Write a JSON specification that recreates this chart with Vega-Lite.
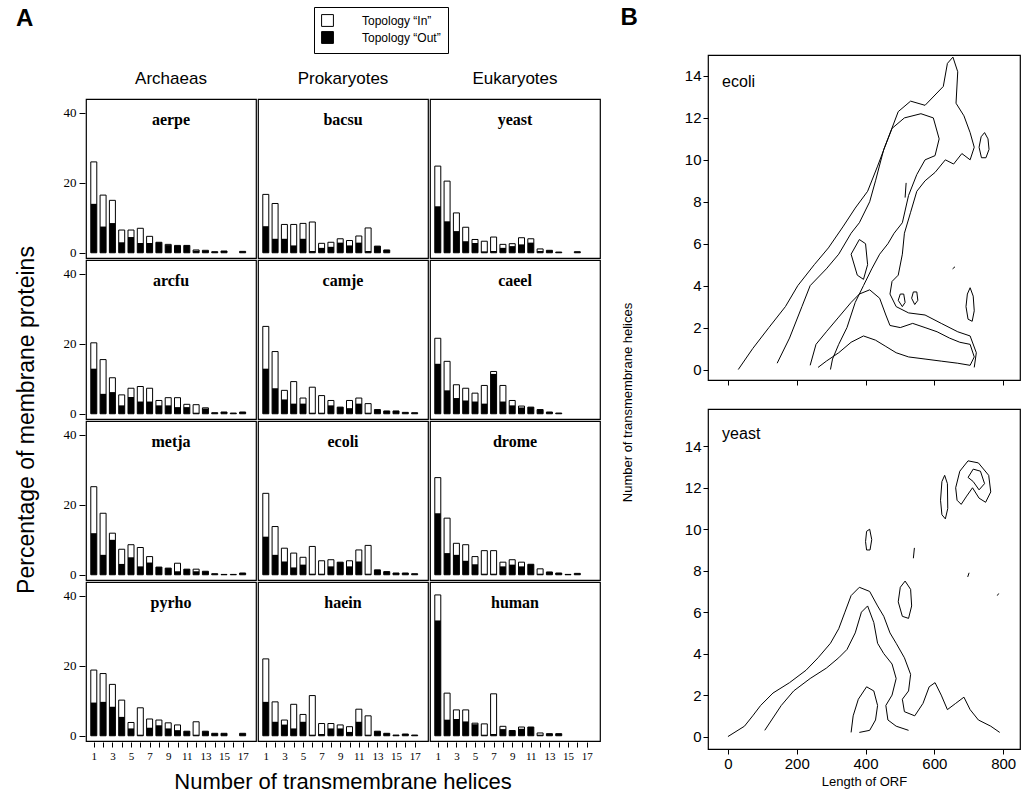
{
"$schema": "https://vega.github.io/schema/vega-lite/v6.json",
"padding": {"left": 15, "top": 6, "right": 0, "bottom": 0},
"background": "white",
"config": {"view": {"stroke": "black", "strokeWidth": 1.2}, "axis": {"grid": false, "domainColor": "black", "tickColor": "black", "labelColor": "black", "titleColor": "black", "labelOverlap": false}},
"datasets": {
"bars": [
{"org":"aerpe","kingdom":"Archaeas","row":1,"n":1,"total":26,"out":14},{"org":"aerpe","kingdom":"Archaeas","row":1,"n":2,"total":16.5,"out":7.5},{"org":"aerpe","kingdom":"Archaeas","row":1,"n":3,"total":15,"out":8.5},{"org":"aerpe","kingdom":"Archaeas","row":1,"n":4,"total":6.5,"out":3},{"org":"aerpe","kingdom":"Archaeas","row":1,"n":5,"total":6.5,"out":4.5},{"org":"aerpe","kingdom":"Archaeas","row":1,"n":6,"total":7,"out":2.8},{"org":"aerpe","kingdom":"Archaeas","row":1,"n":7,"total":4.7,"out":2.8},{"org":"aerpe","kingdom":"Archaeas","row":1,"n":8,"total":3,"out":3},{"org":"aerpe","kingdom":"Archaeas","row":1,"n":9,"total":2.4,"out":2.2},{"org":"aerpe","kingdom":"Archaeas","row":1,"n":10,"total":2.1,"out":2},{"org":"aerpe","kingdom":"Archaeas","row":1,"n":11,"total":2.1,"out":2.1},{"org":"aerpe","kingdom":"Archaeas","row":1,"n":12,"total":0.8,"out":0.6},{"org":"aerpe","kingdom":"Archaeas","row":1,"n":13,"total":0.7,"out":0.6},{"org":"aerpe","kingdom":"Archaeas","row":1,"n":14,"total":0.3,"out":0.3},{"org":"aerpe","kingdom":"Archaeas","row":1,"n":15,"total":0.5,"out":0.5},{"org":"aerpe","kingdom":"Archaeas","row":1,"n":17,"total":0.4,"out":0.4},
{"org":"bacsu","kingdom":"Prokaryotes","row":1,"n":1,"total":16.7,"out":7.6},{"org":"bacsu","kingdom":"Prokaryotes","row":1,"n":2,"total":14.1,"out":4},{"org":"bacsu","kingdom":"Prokaryotes","row":1,"n":3,"total":8.1,"out":4},{"org":"bacsu","kingdom":"Prokaryotes","row":1,"n":4,"total":8.1,"out":2.1},{"org":"bacsu","kingdom":"Prokaryotes","row":1,"n":5,"total":8.4,"out":4},{"org":"bacsu","kingdom":"Prokaryotes","row":1,"n":6,"total":8.8,"out":0.5},{"org":"bacsu","kingdom":"Prokaryotes","row":1,"n":7,"total":2.7,"out":1.4},{"org":"bacsu","kingdom":"Prokaryotes","row":1,"n":8,"total":3,"out":1.7},{"org":"bacsu","kingdom":"Prokaryotes","row":1,"n":9,"total":4,"out":2.9},{"org":"bacsu","kingdom":"Prokaryotes","row":1,"n":10,"total":3.5,"out":2.1},{"org":"bacsu","kingdom":"Prokaryotes","row":1,"n":11,"total":4.8,"out":2.9},{"org":"bacsu","kingdom":"Prokaryotes","row":1,"n":12,"total":7.1,"out":0.5},{"org":"bacsu","kingdom":"Prokaryotes","row":1,"n":13,"total":1.9,"out":1.9},{"org":"bacsu","kingdom":"Prokaryotes","row":1,"n":14,"total":0.8,"out":0.8},
{"org":"yeast","kingdom":"Eukaryotes","row":1,"n":1,"total":24.8,"out":13.3},{"org":"yeast","kingdom":"Eukaryotes","row":1,"n":2,"total":20.5,"out":9},{"org":"yeast","kingdom":"Eukaryotes","row":1,"n":3,"total":11.4,"out":6.2},{"org":"yeast","kingdom":"Eukaryotes","row":1,"n":4,"total":7.3,"out":3.3},{"org":"yeast","kingdom":"Eukaryotes","row":1,"n":5,"total":3.8,"out":2.8},{"org":"yeast","kingdom":"Eukaryotes","row":1,"n":6,"total":3.3,"out":0.4},{"org":"yeast","kingdom":"Eukaryotes","row":1,"n":7,"total":4.5,"out":0.5},{"org":"yeast","kingdom":"Eukaryotes","row":1,"n":8,"total":2.4,"out":1.4},{"org":"yeast","kingdom":"Eukaryotes","row":1,"n":9,"total":2.6,"out":1.9},{"org":"yeast","kingdom":"Eukaryotes","row":1,"n":10,"total":4.3,"out":2.4},{"org":"yeast","kingdom":"Eukaryotes","row":1,"n":11,"total":4,"out":2.9},{"org":"yeast","kingdom":"Eukaryotes","row":1,"n":12,"total":1.1,"out":0.5},{"org":"yeast","kingdom":"Eukaryotes","row":1,"n":13,"total":0.7,"out":0.7},{"org":"yeast","kingdom":"Eukaryotes","row":1,"n":14,"total":0.2,"out":0.2},{"org":"yeast","kingdom":"Eukaryotes","row":1,"n":16,"total":0.3,"out":0.3},
{"org":"arcfu","kingdom":"Archaeas","row":2,"n":1,"total":20.3,"out":12.9},{"org":"arcfu","kingdom":"Archaeas","row":2,"n":2,"total":15.5,"out":5.7},{"org":"arcfu","kingdom":"Archaeas","row":2,"n":3,"total":10.3,"out":6.2},{"org":"arcfu","kingdom":"Archaeas","row":2,"n":4,"total":5.4,"out":2.4},{"org":"arcfu","kingdom":"Archaeas","row":2,"n":5,"total":7.3,"out":4.8},{"org":"arcfu","kingdom":"Archaeas","row":2,"n":6,"total":7.8,"out":3.5},{"org":"arcfu","kingdom":"Archaeas","row":2,"n":7,"total":7.3,"out":3.5},{"org":"arcfu","kingdom":"Archaeas","row":2,"n":8,"total":3.8,"out":2.4},{"org":"arcfu","kingdom":"Archaeas","row":2,"n":9,"total":4.6,"out":2.4},{"org":"arcfu","kingdom":"Archaeas","row":2,"n":10,"total":4.6,"out":1.9},{"org":"arcfu","kingdom":"Archaeas","row":2,"n":11,"total":2.7,"out":1.9},{"org":"arcfu","kingdom":"Archaeas","row":2,"n":12,"total":2.6,"out":0.3},{"org":"arcfu","kingdom":"Archaeas","row":2,"n":13,"total":1.7,"out":1.5},{"org":"arcfu","kingdom":"Archaeas","row":2,"n":14,"total":0.3,"out":0.3},{"org":"arcfu","kingdom":"Archaeas","row":2,"n":15,"total":0.5,"out":0.5},{"org":"arcfu","kingdom":"Archaeas","row":2,"n":16,"total":0.2,"out":0.2},{"org":"arcfu","kingdom":"Archaeas","row":2,"n":17,"total":0.5,"out":0.5},
{"org":"camje","kingdom":"Prokaryotes","row":2,"n":1,"total":25,"out":12.9},{"org":"camje","kingdom":"Prokaryotes","row":2,"n":2,"total":17.8,"out":7.3},{"org":"camje","kingdom":"Prokaryotes","row":2,"n":3,"total":6.7,"out":4.1},{"org":"camje","kingdom":"Prokaryotes","row":2,"n":4,"total":9.2,"out":2.9},{"org":"camje","kingdom":"Prokaryotes","row":2,"n":5,"total":4.5,"out":2.9},{"org":"camje","kingdom":"Prokaryotes","row":2,"n":6,"total":7.6,"out":0.3},{"org":"camje","kingdom":"Prokaryotes","row":2,"n":7,"total":5.2,"out":0.3},{"org":"camje","kingdom":"Prokaryotes","row":2,"n":8,"total":3.8,"out":2.4},{"org":"camje","kingdom":"Prokaryotes","row":2,"n":9,"total":1.9,"out":1.9},{"org":"camje","kingdom":"Prokaryotes","row":2,"n":10,"total":3.8,"out":1.6},{"org":"camje","kingdom":"Prokaryotes","row":2,"n":11,"total":4.5,"out":2.9},{"org":"camje","kingdom":"Prokaryotes","row":2,"n":12,"total":2.9,"out":0.3},{"org":"camje","kingdom":"Prokaryotes","row":2,"n":13,"total":1.2,"out":1.2},{"org":"camje","kingdom":"Prokaryotes","row":2,"n":14,"total":0.8,"out":0.8},{"org":"camje","kingdom":"Prokaryotes","row":2,"n":15,"total":0.8,"out":0.8},{"org":"camje","kingdom":"Prokaryotes","row":2,"n":16,"total":0.4,"out":0.4},{"org":"camje","kingdom":"Prokaryotes","row":2,"n":17,"total":0.3,"out":0.3},
{"org":"caeel","kingdom":"Eukaryotes","row":2,"n":1,"total":21.6,"out":14.3},{"org":"caeel","kingdom":"Eukaryotes","row":2,"n":2,"total":15,"out":6.7},{"org":"caeel","kingdom":"Eukaryotes","row":2,"n":3,"total":8.3,"out":4.5},{"org":"caeel","kingdom":"Eukaryotes","row":2,"n":4,"total":7.3,"out":3.8},{"org":"caeel","kingdom":"Eukaryotes","row":2,"n":5,"total":5.9,"out":3.5},{"org":"caeel","kingdom":"Eukaryotes","row":2,"n":6,"total":8.1,"out":2.9},{"org":"caeel","kingdom":"Eukaryotes","row":2,"n":7,"total":12.1,"out":11.4},{"org":"caeel","kingdom":"Eukaryotes","row":2,"n":8,"total":8.1,"out":3.5},{"org":"caeel","kingdom":"Eukaryotes","row":2,"n":9,"total":3.8,"out":2.4},{"org":"caeel","kingdom":"Eukaryotes","row":2,"n":10,"total":2.2,"out":1.8},{"org":"caeel","kingdom":"Eukaryotes","row":2,"n":11,"total":1.9,"out":1.9},{"org":"caeel","kingdom":"Eukaryotes","row":2,"n":12,"total":1.2,"out":1.2},{"org":"caeel","kingdom":"Eukaryotes","row":2,"n":13,"total":0.5,"out":0.5},{"org":"caeel","kingdom":"Eukaryotes","row":2,"n":14,"total":0.2,"out":0.2},
{"org":"metja","kingdom":"Archaeas","row":3,"n":1,"total":25.2,"out":11.9},{"org":"metja","kingdom":"Archaeas","row":3,"n":2,"total":17.6,"out":5.7},{"org":"metja","kingdom":"Archaeas","row":3,"n":3,"total":11.9,"out":10},{"org":"metja","kingdom":"Archaeas","row":3,"n":4,"total":7.3,"out":3.1},{"org":"metja","kingdom":"Archaeas","row":3,"n":5,"total":8.6,"out":5},{"org":"metja","kingdom":"Archaeas","row":3,"n":6,"total":7.8,"out":2.4},{"org":"metja","kingdom":"Archaeas","row":3,"n":7,"total":5.2,"out":3.5},{"org":"metja","kingdom":"Archaeas","row":3,"n":8,"total":2.2,"out":2.2},{"org":"metja","kingdom":"Archaeas","row":3,"n":9,"total":1.9,"out":1.9},{"org":"metja","kingdom":"Archaeas","row":3,"n":10,"total":3.3,"out":1},{"org":"metja","kingdom":"Archaeas","row":3,"n":11,"total":1.6,"out":1.6},{"org":"metja","kingdom":"Archaeas","row":3,"n":12,"total":1.6,"out":1},{"org":"metja","kingdom":"Archaeas","row":3,"n":13,"total":1,"out":1},{"org":"metja","kingdom":"Archaeas","row":3,"n":14,"total":0.3,"out":0.3},{"org":"metja","kingdom":"Archaeas","row":3,"n":15,"total":0.1,"out":0.1},{"org":"metja","kingdom":"Archaeas","row":3,"n":16,"total":0.1,"out":0.1},{"org":"metja","kingdom":"Archaeas","row":3,"n":17,"total":0.5,"out":0.5},
{"org":"ecoli","kingdom":"Prokaryotes","row":3,"n":1,"total":23.3,"out":10.9},{"org":"ecoli","kingdom":"Prokaryotes","row":3,"n":2,"total":13.8,"out":5.7},{"org":"ecoli","kingdom":"Prokaryotes","row":3,"n":3,"total":7.6,"out":3.8},{"org":"ecoli","kingdom":"Prokaryotes","row":3,"n":4,"total":6.2,"out":2.1},{"org":"ecoli","kingdom":"Prokaryotes","row":3,"n":5,"total":5,"out":2.9},{"org":"ecoli","kingdom":"Prokaryotes","row":3,"n":6,"total":8.1,"out":0.3},{"org":"ecoli","kingdom":"Prokaryotes","row":3,"n":7,"total":4,"out":0.3},{"org":"ecoli","kingdom":"Prokaryotes","row":3,"n":8,"total":4.3,"out":2.4},{"org":"ecoli","kingdom":"Prokaryotes","row":3,"n":9,"total":3.6,"out":3.6},{"org":"ecoli","kingdom":"Prokaryotes","row":3,"n":10,"total":4,"out":2.4},{"org":"ecoli","kingdom":"Prokaryotes","row":3,"n":11,"total":7.1,"out":3.8},{"org":"ecoli","kingdom":"Prokaryotes","row":3,"n":12,"total":8.4,"out":0.3},{"org":"ecoli","kingdom":"Prokaryotes","row":3,"n":13,"total":1.4,"out":1.4},{"org":"ecoli","kingdom":"Prokaryotes","row":3,"n":14,"total":0.9,"out":0.9},{"org":"ecoli","kingdom":"Prokaryotes","row":3,"n":15,"total":0.5,"out":0.5},{"org":"ecoli","kingdom":"Prokaryotes","row":3,"n":16,"total":0.5,"out":0.5},{"org":"ecoli","kingdom":"Prokaryotes","row":3,"n":17,"total":0.3,"out":0.3},
{"org":"drome","kingdom":"Eukaryotes","row":3,"n":1,"total":27.8,"out":17.6},{"org":"drome","kingdom":"Eukaryotes","row":3,"n":2,"total":16.2,"out":6.2},{"org":"drome","kingdom":"Eukaryotes","row":3,"n":3,"total":9,"out":5.7},{"org":"drome","kingdom":"Eukaryotes","row":3,"n":4,"total":8.6,"out":4},{"org":"drome","kingdom":"Eukaryotes","row":3,"n":5,"total":5.2,"out":3},{"org":"drome","kingdom":"Eukaryotes","row":3,"n":6,"total":6.9,"out":0.3},{"org":"drome","kingdom":"Eukaryotes","row":3,"n":7,"total":6.9,"out":0.3},{"org":"drome","kingdom":"Eukaryotes","row":3,"n":8,"total":3.6,"out":2.4},{"org":"drome","kingdom":"Eukaryotes","row":3,"n":9,"total":4.3,"out":2.9},{"org":"drome","kingdom":"Eukaryotes","row":3,"n":10,"total":3.6,"out":2.4},{"org":"drome","kingdom":"Eukaryotes","row":3,"n":11,"total":3,"out":3},{"org":"drome","kingdom":"Eukaryotes","row":3,"n":12,"total":1.7,"out":0.3},{"org":"drome","kingdom":"Eukaryotes","row":3,"n":13,"total":0.8,"out":0.8},{"org":"drome","kingdom":"Eukaryotes","row":3,"n":14,"total":0.5,"out":0.5},{"org":"drome","kingdom":"Eukaryotes","row":3,"n":15,"total":0.1,"out":0.1},{"org":"drome","kingdom":"Eukaryotes","row":3,"n":16,"total":0.4,"out":0.4},
{"org":"pyrho","kingdom":"Archaeas","row":4,"n":1,"total":18.8,"out":9.5},{"org":"pyrho","kingdom":"Archaeas","row":4,"n":2,"total":17.8,"out":9.7},{"org":"pyrho","kingdom":"Archaeas","row":4,"n":3,"total":14.7,"out":8.3},{"org":"pyrho","kingdom":"Archaeas","row":4,"n":4,"total":10.2,"out":5.4},{"org":"pyrho","kingdom":"Archaeas","row":4,"n":5,"total":3.8,"out":2.1},{"org":"pyrho","kingdom":"Archaeas","row":4,"n":6,"total":8,"out":0.3},{"org":"pyrho","kingdom":"Archaeas","row":4,"n":7,"total":4.8,"out":2.3},{"org":"pyrho","kingdom":"Archaeas","row":4,"n":8,"total":4.5,"out":3},{"org":"pyrho","kingdom":"Archaeas","row":4,"n":9,"total":3.7,"out":2.1},{"org":"pyrho","kingdom":"Archaeas","row":4,"n":10,"total":3.1,"out":1.6},{"org":"pyrho","kingdom":"Archaeas","row":4,"n":11,"total":1.3,"out":1.3},{"org":"pyrho","kingdom":"Archaeas","row":4,"n":12,"total":4,"out":0.3},{"org":"pyrho","kingdom":"Archaeas","row":4,"n":13,"total":1.3,"out":1.3},{"org":"pyrho","kingdom":"Archaeas","row":4,"n":14,"total":0.7,"out":0.7},{"org":"pyrho","kingdom":"Archaeas","row":4,"n":15,"total":0.7,"out":0.7},{"org":"pyrho","kingdom":"Archaeas","row":4,"n":17,"total":0.7,"out":0.7},
{"org":"haein","kingdom":"Prokaryotes","row":4,"n":1,"total":22,"out":9.7},{"org":"haein","kingdom":"Prokaryotes","row":4,"n":2,"total":9.7,"out":4},{"org":"haein","kingdom":"Prokaryotes","row":4,"n":3,"total":4.5,"out":3.2},{"org":"haein","kingdom":"Prokaryotes","row":4,"n":4,"total":9,"out":2.1},{"org":"haein","kingdom":"Prokaryotes","row":4,"n":5,"total":6.1,"out":4},{"org":"haein","kingdom":"Prokaryotes","row":4,"n":6,"total":11.5,"out":0.3},{"org":"haein","kingdom":"Prokaryotes","row":4,"n":7,"total":3.5,"out":0.5},{"org":"haein","kingdom":"Prokaryotes","row":4,"n":8,"total":3.5,"out":2.1},{"org":"haein","kingdom":"Prokaryotes","row":4,"n":9,"total":3.1,"out":2.1},{"org":"haein","kingdom":"Prokaryotes","row":4,"n":10,"total":2.6,"out":1.1},{"org":"haein","kingdom":"Prokaryotes","row":4,"n":11,"total":7.6,"out":4},{"org":"haein","kingdom":"Prokaryotes","row":4,"n":12,"total":5.7,"out":0.3},{"org":"haein","kingdom":"Prokaryotes","row":4,"n":13,"total":1.3,"out":1.3},{"org":"haein","kingdom":"Prokaryotes","row":4,"n":14,"total":0.7,"out":0.7},{"org":"haein","kingdom":"Prokaryotes","row":4,"n":15,"total":0.2,"out":0.2},{"org":"haein","kingdom":"Prokaryotes","row":4,"n":16,"total":0.5,"out":0.5},{"org":"haein","kingdom":"Prokaryotes","row":4,"n":17,"total":0.2,"out":0.2},
{"org":"human","kingdom":"Eukaryotes","row":4,"n":1,"total":40.3,"out":33},{"org":"human","kingdom":"Eukaryotes","row":4,"n":2,"total":12.2,"out":4.6},{"org":"human","kingdom":"Eukaryotes","row":4,"n":3,"total":7.4,"out":4.8},{"org":"human","kingdom":"Eukaryotes","row":4,"n":4,"total":7.4,"out":4.1},{"org":"human","kingdom":"Eukaryotes","row":4,"n":5,"total":3.6,"out":3.3},{"org":"human","kingdom":"Eukaryotes","row":4,"n":6,"total":3.4,"out":0.3},{"org":"human","kingdom":"Eukaryotes","row":4,"n":7,"total":12,"out":0.5},{"org":"human","kingdom":"Eukaryotes","row":4,"n":8,"total":2.7,"out":1.9},{"org":"human","kingdom":"Eukaryotes","row":4,"n":9,"total":1.5,"out":1.5},{"org":"human","kingdom":"Eukaryotes","row":4,"n":10,"total":2.5,"out":2},{"org":"human","kingdom":"Eukaryotes","row":4,"n":11,"total":2.5,"out":2.5},{"org":"human","kingdom":"Eukaryotes","row":4,"n":12,"total":0.8,"out":0.3},{"org":"human","kingdom":"Eukaryotes","row":4,"n":13,"total":0.6,"out":0.6},{"org":"human","kingdom":"Eukaryotes","row":4,"n":14,"total":0.6,"out":0.6}
],
"ecoli": [
{"c":"e1","i":1,"x":30,"y":0},{"c":"e1","i":2,"x":72,"y":1},{"c":"e1","i":3,"x":119,"y":2},{"c":"e1","i":4,"x":167,"y":3},{"c":"e1","i":5,"x":203,"y":4},{"c":"e1","i":6,"x":251,"y":5},{"c":"e1","i":7,"x":292,"y":5.8},{"c":"e1","i":8,"x":334,"y":6.8},{"c":"e1","i":9,"x":370,"y":7.7},{"c":"e1","i":10,"x":406,"y":8.5},{"c":"e1","i":11,"x":435,"y":9.7},{"c":"e1","i":12,"x":465,"y":11},{"c":"e1","i":13,"x":495,"y":12.3},{"c":"e1","i":14,"x":531,"y":12.8},{"c":"e1","i":15,"x":573,"y":12.6},{"c":"e1","i":16,"x":626,"y":13.5},{"c":"e1","i":17,"x":638,"y":14.6},{"c":"e1","i":18,"x":654,"y":14.9},{"c":"e1","i":19,"x":668,"y":14.2},{"c":"e1","i":20,"x":663,"y":12.7},{"c":"e1","i":21,"x":686,"y":12.1},{"c":"e1","i":22,"x":704,"y":11.3},{"c":"e1","i":23,"x":716,"y":10.6},{"c":"e1","i":24,"x":704,"y":10},{"c":"e1","i":25,"x":680,"y":10.3},{"c":"e1","i":26,"x":656,"y":9.8},{"c":"e1","i":27,"x":632,"y":10},{"c":"e1","i":28,"x":602,"y":9.4},{"c":"e1","i":29,"x":573,"y":9},{"c":"e1","i":30,"x":549,"y":8.5},{"c":"e1","i":31,"x":531,"y":7.5},{"c":"e1","i":32,"x":513,"y":6.5},{"c":"e1","i":33,"x":507,"y":5.5},{"c":"e1","i":34,"x":495,"y":4.5},{"c":"e1","i":35,"x":477,"y":4.2},{"c":"e1","i":36,"x":471,"y":3.6},{"c":"e1","i":37,"x":489,"y":3},{"c":"e1","i":38,"x":525,"y":2.7},{"c":"e1","i":39,"x":573,"y":2.6},{"c":"e1","i":40,"x":620,"y":2.2},{"c":"e1","i":41,"x":668,"y":1.8},{"c":"e1","i":42,"x":704,"y":1.6},{"c":"e1","i":43,"x":722,"y":0.8},{"c":"e1","i":44,"x":716,"y":0.1},
{"c":"e2","i":1,"x":143,"y":0.3},{"c":"e2","i":2,"x":179,"y":1.5},{"c":"e2","i":3,"x":215,"y":3},{"c":"e2","i":4,"x":239,"y":4},{"c":"e2","i":5,"x":286,"y":4.8},{"c":"e2","i":6,"x":322,"y":5.5},{"c":"e2","i":7,"x":358,"y":6.5},{"c":"e2","i":8,"x":382,"y":7},{"c":"e2","i":9,"x":412,"y":8},{"c":"e2","i":10,"x":429,"y":9},{"c":"e2","i":11,"x":453,"y":10.5},{"c":"e2","i":12,"x":477,"y":11.5},{"c":"e2","i":13,"x":513,"y":12},{"c":"e2","i":14,"x":561,"y":12.2},{"c":"e2","i":15,"x":597,"y":12},{"c":"e2","i":16,"x":614,"y":11},{"c":"e2","i":17,"x":602,"y":10.2},{"c":"e2","i":18,"x":573,"y":10},{"c":"e2","i":19,"x":549,"y":9.3},{"c":"e2","i":20,"x":525,"y":8.3},{"c":"e2","i":21,"x":507,"y":7},{"c":"e2","i":22,"x":483,"y":6.5},{"c":"e2","i":23,"x":465,"y":6},{"c":"e2","i":24,"x":441,"y":5.5},{"c":"e2","i":25,"x":418,"y":4.8},{"c":"e2","i":26,"x":394,"y":4},{"c":"e2","i":27,"x":370,"y":3.2},{"c":"e2","i":28,"x":346,"y":2},{"c":"e2","i":29,"x":322,"y":1.2},{"c":"e2","i":30,"x":304,"y":0.5},{"c":"e2","i":31,"x":298,"y":0},
{"c":"e3","i":1,"x":239,"y":0.2},{"c":"e3","i":2,"x":256,"y":1.2},{"c":"e3","i":3,"x":286,"y":1.8},{"c":"e3","i":4,"x":322,"y":2.5},{"c":"e3","i":5,"x":358,"y":3.2},{"c":"e3","i":6,"x":382,"y":3.6},{"c":"e3","i":7,"x":412,"y":3.8},{"c":"e3","i":8,"x":441,"y":3.4},{"c":"e3","i":9,"x":459,"y":2.6},{"c":"e3","i":10,"x":471,"y":2.1},{"c":"e3","i":11,"x":501,"y":2},{"c":"e3","i":12,"x":537,"y":2.2},{"c":"e3","i":13,"x":573,"y":2},{"c":"e3","i":14,"x":608,"y":1.8},{"c":"e3","i":15,"x":644,"y":1.5},{"c":"e3","i":16,"x":674,"y":1.3},{"c":"e3","i":17,"x":704,"y":1.2},{"c":"e3","i":18,"x":716,"y":0.6},{"c":"e3","i":19,"x":704,"y":0.2},{"c":"e3","i":20,"x":668,"y":0.3},{"c":"e3","i":21,"x":620,"y":0.4},{"c":"e3","i":22,"x":573,"y":0.5},{"c":"e3","i":23,"x":525,"y":0.6},{"c":"e3","i":24,"x":489,"y":0.8},{"c":"e3","i":25,"x":459,"y":1.1},{"c":"e3","i":26,"x":429,"y":1.4},{"c":"e3","i":27,"x":394,"y":1.6},{"c":"e3","i":28,"x":358,"y":1.3},{"c":"e3","i":29,"x":322,"y":0.8},{"c":"e3","i":30,"x":286,"y":0.4},{"c":"e3","i":31,"x":262,"y":0.1},
{"c":"e4","i":1,"x":358,"y":5.5},{"c":"e4","i":2,"x":382,"y":6.2},{"c":"e4","i":3,"x":400,"y":6},{"c":"e4","i":4,"x":406,"y":5},{"c":"e4","i":5,"x":394,"y":4.3},{"c":"e4","i":6,"x":376,"y":4.5},{"c":"e4","i":7,"x":358,"y":5.5},
{"c":"e5","i":1,"x":730,"y":10.6},{"c":"e5","i":2,"x":736,"y":11.1},{"c":"e5","i":3,"x":746,"y":11.3},{"c":"e5","i":4,"x":756,"y":11},{"c":"e5","i":5,"x":759,"y":10.5},{"c":"e5","i":6,"x":750,"y":10.1},{"c":"e5","i":7,"x":737,"y":10.1},{"c":"e5","i":8,"x":730,"y":10.6},
{"c":"e6","i":1,"x":692,"y":3},{"c":"e6","i":2,"x":696,"y":3.6},{"c":"e6","i":3,"x":704,"y":3.9},{"c":"e6","i":4,"x":713,"y":3.5},{"c":"e6","i":5,"x":716,"y":2.8},{"c":"e6","i":6,"x":710,"y":2.3},{"c":"e6","i":7,"x":698,"y":2.4},{"c":"e6","i":8,"x":692,"y":3},
{"c":"e7","i":1,"x":495,"y":3.3},{"c":"e7","i":2,"x":501,"y":3.6},{"c":"e7","i":3,"x":511,"y":3.6},{"c":"e7","i":4,"x":515,"y":3.2},{"c":"e7","i":5,"x":507,"y":3},{"c":"e7","i":6,"x":495,"y":3.3},
{"c":"e8","i":1,"x":534,"y":3.4},{"c":"e8","i":2,"x":539,"y":3.7},{"c":"e8","i":3,"x":549,"y":3.7},{"c":"e8","i":4,"x":552,"y":3.3},{"c":"e8","i":5,"x":543,"y":3.1},{"c":"e8","i":6,"x":534,"y":3.4},
{"c":"e9","i":1,"x":515,"y":8.2},{"c":"e9","i":2,"x":518,"y":8.9},
{"c":"e10","i":1,"x":653,"y":4.8},{"c":"e10","i":2,"x":660,"y":4.9}
],
"yeast": [
{"c":"y1","i":1,"x":0,"y":0},{"c":"y1","i":2,"x":48,"y":0.5},{"c":"y1","i":3,"x":72,"y":1},{"c":"y1","i":4,"x":95,"y":1.5},{"c":"y1","i":5,"x":131,"y":2.1},{"c":"y1","i":6,"x":179,"y":2.6},{"c":"y1","i":7,"x":227,"y":3.2},{"c":"y1","i":8,"x":262,"y":3.8},{"c":"y1","i":9,"x":298,"y":4.5},{"c":"y1","i":10,"x":322,"y":5.2},{"c":"y1","i":11,"x":340,"y":6},{"c":"y1","i":12,"x":358,"y":6.8},{"c":"y1","i":13,"x":382,"y":7.2},{"c":"y1","i":14,"x":412,"y":7},{"c":"y1","i":15,"x":435,"y":6.3},{"c":"y1","i":16,"x":453,"y":5.8},{"c":"y1","i":17,"x":471,"y":5},{"c":"y1","i":18,"x":489,"y":4.5},{"c":"y1","i":19,"x":513,"y":3.8},{"c":"y1","i":20,"x":531,"y":3},{"c":"y1","i":21,"x":525,"y":2.2},{"c":"y1","i":22,"x":507,"y":1.8},{"c":"y1","i":23,"x":513,"y":1.2},{"c":"y1","i":24,"x":543,"y":1},{"c":"y1","i":25,"x":567,"y":1.6},{"c":"y1","i":26,"x":585,"y":2.4},{"c":"y1","i":27,"x":602,"y":2.6},{"c":"y1","i":28,"x":620,"y":2},{"c":"y1","i":29,"x":638,"y":1.3},{"c":"y1","i":30,"x":662,"y":1.6},{"c":"y1","i":31,"x":686,"y":1.9},{"c":"y1","i":32,"x":704,"y":1.3},{"c":"y1","i":33,"x":728,"y":0.8},{"c":"y1","i":34,"x":764,"y":0.5},{"c":"y1","i":35,"x":790,"y":0.2},
{"c":"y2","i":1,"x":107,"y":0.3},{"c":"y2","i":2,"x":155,"y":1.5},{"c":"y2","i":3,"x":191,"y":2.2},{"c":"y2","i":4,"x":239,"y":2.8},{"c":"y2","i":5,"x":286,"y":3.3},{"c":"y2","i":6,"x":322,"y":3.8},{"c":"y2","i":7,"x":346,"y":4.2},{"c":"y2","i":8,"x":370,"y":5},{"c":"y2","i":9,"x":388,"y":6},{"c":"y2","i":10,"x":406,"y":6.3},{"c":"y2","i":11,"x":424,"y":5.5},{"c":"y2","i":12,"x":435,"y":4.5},{"c":"y2","i":13,"x":453,"y":4},{"c":"y2","i":14,"x":477,"y":3.5},{"c":"y2","i":15,"x":489,"y":2.8},{"c":"y2","i":16,"x":477,"y":2},{"c":"y2","i":17,"x":459,"y":1.5},{"c":"y2","i":18,"x":465,"y":0.8},{"c":"y2","i":19,"x":489,"y":0.5},{"c":"y2","i":20,"x":525,"y":0.3},
{"c":"y3","i":1,"x":358,"y":0.2},{"c":"y3","i":2,"x":364,"y":1},{"c":"y3","i":3,"x":379,"y":1.8},{"c":"y3","i":4,"x":403,"y":2.4},{"c":"y3","i":5,"x":424,"y":2.2},{"c":"y3","i":6,"x":435,"y":1.5},{"c":"y3","i":7,"x":429,"y":0.8},{"c":"y3","i":8,"x":412,"y":0.3},{"c":"y3","i":9,"x":382,"y":0.2},
{"c":"y4","i":1,"x":495,"y":6.5},{"c":"y4","i":2,"x":501,"y":7.2},{"c":"y4","i":3,"x":515,"y":7.5},{"c":"y4","i":4,"x":531,"y":7.1},{"c":"y4","i":5,"x":534,"y":6.3},{"c":"y4","i":6,"x":525,"y":5.7},{"c":"y4","i":7,"x":507,"y":5.8},{"c":"y4","i":8,"x":495,"y":6.5},
{"c":"y5","i":1,"x":400,"y":9.4},{"c":"y5","i":2,"x":403,"y":9.9},{"c":"y5","i":3,"x":412,"y":10},{"c":"y5","i":4,"x":418,"y":9.5},{"c":"y5","i":5,"x":413,"y":9},{"c":"y5","i":6,"x":403,"y":9},{"c":"y5","i":7,"x":400,"y":9.4},
{"c":"y6","i":1,"x":618,"y":11.4},{"c":"y6","i":2,"x":622,"y":12.3},{"c":"y6","i":3,"x":630,"y":12.6},{"c":"y6","i":4,"x":638,"y":12.2},{"c":"y6","i":5,"x":639,"y":11},{"c":"y6","i":6,"x":632,"y":10.5},{"c":"y6","i":7,"x":622,"y":10.7},{"c":"y6","i":8,"x":618,"y":11.4},
{"c":"y7","i":1,"x":662,"y":12},{"c":"y7","i":2,"x":674,"y":12.8},{"c":"y7","i":3,"x":698,"y":13.3},{"c":"y7","i":4,"x":728,"y":13.2},{"c":"y7","i":5,"x":758,"y":12.6},{"c":"y7","i":6,"x":764,"y":11.8},{"c":"y7","i":7,"x":749,"y":11.3},{"c":"y7","i":8,"x":730,"y":11.5},{"c":"y7","i":9,"x":711,"y":12},{"c":"y7","i":10,"x":694,"y":11.6},{"c":"y7","i":11,"x":678,"y":11.2},{"c":"y7","i":12,"x":666,"y":11.4},{"c":"y7","i":13,"x":662,"y":12},
{"c":"y8","i":1,"x":698,"y":12.5},{"c":"y8","i":2,"x":713,"y":12.9},{"c":"y8","i":3,"x":734,"y":12.8},{"c":"y8","i":4,"x":746,"y":12.2},{"c":"y8","i":5,"x":730,"y":11.9},{"c":"y8","i":6,"x":713,"y":12.3},{"c":"y8","i":7,"x":698,"y":12.5},
{"c":"y9","i":1,"x":697,"y":7.7},{"c":"y9","i":2,"x":701,"y":7.9},
{"c":"y10","i":1,"x":783,"y":6.8},{"c":"y10","i":2,"x":787,"y":6.9},
{"c":"y11","i":1,"x":539,"y":8.6},{"c":"y11","i":2,"x":542,"y":9.1}
]
},
"hconcat": [
{
"title": {"text": "A", "anchor": "start", "frame": "bounds", "fontSize": 24, "font": "Liberation Sans", "fontWeight": "bold", "offset": 24},
"spacing": 14,
"vconcat": [
{"width": 510, "height": 1, "data": {"values": [{}]}, "mark": {"type": "rule", "opacity": 0}, "encoding": {}, "view": {"stroke": null}},
{
"data": {"name": "bars"},
"facet": {
"row": {"field": "row", "type": "ordinal", "title": "Percentage of membrane proteins", "header": {"labels": false, "titleFont": "Liberation Sans", "titleFontSize": 23, "titleFontWeight": "normal", "titleColor": "black", "titlePadding": 14}},
"column": {"field": "kingdom", "type": "nominal", "title": "Number of transmembrane helices", "sort": ["Archaeas", "Prokaryotes", "Eukaryotes"], "header": {"labelOrient": "top", "titleOrient": "bottom", "labelFont": "Liberation Sans", "labelFontSize": 17, "labelPadding": 10, "labelColor": "black", "titleFont": "Liberation Sans", "titleFontSize": 22, "titleFontWeight": "normal", "titleColor": "black", "titlePadding": 1}}
},
"spacing": 0,
"spec": {
"width": 170, "height": 159,
"resolve": {"axis": {"x": "independent"}},
"layer": [
{"mark": {"type": "bar", "width": 6, "stroke": "black", "strokeWidth": 1},
"encoding": {
"x": {"field": "n", "type": "quantitative", "scale": {"domain": [0.7, 17.9], "nice": false, "zero": false},
"axis": {"orient": "bottom", "title": null, "values": [1,3,5,7,9,11,13,15,17], "labelOverlap": false, "labelFont": "Liberation Serif", "labelFontSize": 11, "labelPadding": 3, "tickSize": 5, "domain": false}},
"y": {"field": "total", "type": "quantitative", "scale": {"domain": [-1.5, 44], "nice": false},
"axis": {"title": null, "values": [0,10,20,30,40], "labelFont": "Liberation Serif", "labelFontSize": 13, "tickSize": 6, "labelPadding": 3, "domain": false}},
"fill": {"datum": "Topology “In”", "type": "nominal", "scale": {"domain": ["Topology “In”", "Topology “Out”"], "range": ["white", "black"]},
"legend": {"title": null, "orient": "none", "legendX": 228, "legendY": -48, "direction": "vertical", "strokeColor": "black", "padding": 7, "symbolType": "square", "symbolSize": 140, "symbolStrokeColor": "black", "symbolStrokeWidth": 1, "labelFont": "Liberation Sans", "labelFontSize": 12, "labelColor": "black", "labelOffset": 28, "rowPadding": 0}}
}},
{"mark": {"type": "bar", "width": 6},
"encoding": {
"x": {"field": "n", "type": "quantitative", "axis": {"orient": "bottom", "title": null, "values": [2,4,6,8,10,12,14,16], "labels": false, "tickSize": 5, "domain": false}},
"y": {"field": "out", "type": "quantitative", "axis": {"title": null}},
"fill": {"datum": "Topology “Out”", "type": "nominal"}
}},
{"transform": [{"filter": "datum.n == 1"}],
"mark": {"type": "text", "font": "Liberation Serif", "fontSize": 16, "fontWeight": "bold", "align": "center", "baseline": "middle"},
"encoding": {"x": {"datum": 9.3, "axis": null}, "y": {"datum": 38}, "text": {"field": "org"}}}
]
}
}
]
},
{
"title": {"text": "B", "anchor": "start", "frame": "bounds", "fontSize": 24, "font": "Liberation Sans", "fontWeight": "bold", "offset": 24},
"spacing": 29,
"bounds": "flush",
"vconcat": [
{"width": 312, "height": 325,
"layer": [
{"data": {"name": "ecoli"}, "mark": {"type": "line", "color": "black", "strokeWidth": 1, "clip": true},
"encoding": {
"x": {"field": "x", "type": "quantitative", "scale": {"domain": [-58, 849], "nice": false, "zero": false}, "axis": {"values": [0,200,400,600,800], "labels": false, "title": null, "tickSize": 5, "domain": false}},
"y": {"field": "y", "type": "quantitative", "scale": {"domain": [-0.5, 15], "nice": false}, "axis": {"values": [0,2,4,6,8,10,12,14], "labelFont": "Liberation Sans", "labelFontSize": 15, "tickSize": 5, "domain": false, "title": "Number of transmembrane helices", "titleFont": "Liberation Sans", "titleFontSize": 13, "titleFontWeight": "normal", "titleX": -74, "titleY": 347}},
"detail": {"field": "c"}, "order": {"field": "i"}
}},
{"data": {"values": [{"label": "ecoli"}]}, "mark": {"type": "text", "align": "left", "baseline": "middle", "font": "Liberation Sans", "fontSize": 16},
"encoding": {"x": {"datum": -17}, "y": {"datum": 13.7}, "text": {"field": "label"}}}
]},
{"width": 312, "height": 340,
"layer": [
{"data": {"name": "yeast"}, "mark": {"type": "line", "color": "black", "strokeWidth": 1, "clip": true},
"encoding": {
"x": {"field": "x", "type": "quantitative", "scale": {"domain": [-58, 849], "nice": false, "zero": false}, "axis": {"values": [0,200,400,600,800], "labelFont": "Liberation Sans", "labelFontSize": 15, "labelPadding": 2, "tickSize": 5, "domain": false, "title": "Length of ORF", "titleFont": "Liberation Sans", "titleFontSize": 13, "titleFontWeight": "normal", "titlePadding": 4}},
"y": {"field": "y", "type": "quantitative", "scale": {"domain": [-0.6, 15.8], "nice": false}, "axis": {"values": [0,2,4,6,8,10,12,14], "labelFont": "Liberation Sans", "labelFontSize": 15, "tickSize": 5, "domain": false, "title": null}},
"detail": {"field": "c"}, "order": {"field": "i"}
}},
{"data": {"values": [{"label": "yeast"}]}, "mark": {"type": "text", "align": "left", "baseline": "middle", "font": "Liberation Sans", "fontSize": 16},
"encoding": {"x": {"datum": -17}, "y": {"datum": 14.6}, "text": {"field": "label"}}}
]}
]
}
],
"spacing": 19
}
